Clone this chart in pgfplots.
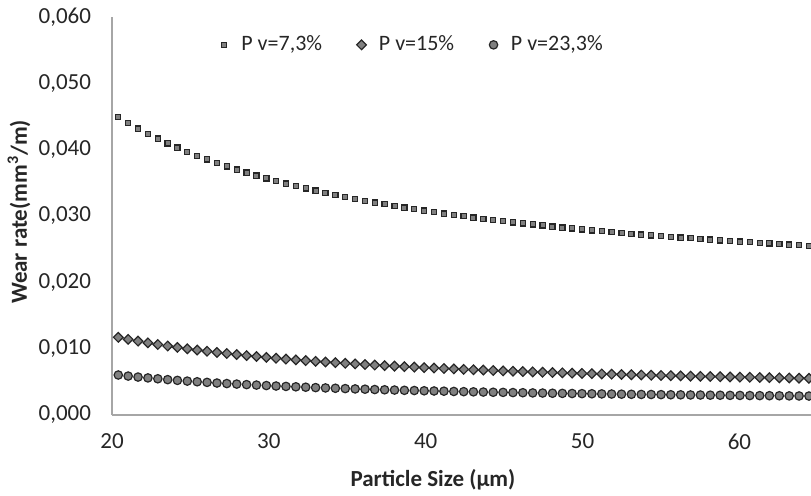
\documentclass[border=0pt]{standalone}
\usepackage{pgfplots}
\usepackage{pgfplotstable}
\pgfplotsset{compat=1.18}
\usepackage{fontspec}
\setmainfont{Carlito}
\definecolor{mk}{HTML}{808080}
\definecolor{mkline}{HTML}{262626}
\definecolor{axl}{HTML}{A6A6A6}
\pgfplotstableread{
x sq di ci
20.40 0.04490 0.01171 0.00603
21.03 0.04401 0.01141 0.00587
21.66 0.04318 0.01114 0.00572
22.29 0.04240 0.01088 0.00559
22.92 0.04166 0.01063 0.00546
23.55 0.04096 0.01040 0.00533
24.17 0.04030 0.01019 0.00522
24.80 0.03968 0.00998 0.00511
25.43 0.03909 0.00979 0.00501
26.06 0.03852 0.00961 0.00492
26.69 0.03799 0.00943 0.00482
27.32 0.03748 0.00927 0.00474
27.95 0.03700 0.00911 0.00466
28.58 0.03653 0.00896 0.00458
29.21 0.03609 0.00882 0.00451
29.84 0.03567 0.00869 0.00444
30.46 0.03527 0.00856 0.00437
31.09 0.03488 0.00843 0.00431
31.72 0.03451 0.00831 0.00425
32.35 0.03416 0.00820 0.00419
32.98 0.03382 0.00809 0.00413
33.61 0.03349 0.00799 0.00408
34.24 0.03317 0.00789 0.00403
34.87 0.03287 0.00779 0.00398
35.50 0.03258 0.00770 0.00393
36.13 0.03230 0.00761 0.00389
36.75 0.03203 0.00753 0.00384
37.38 0.03177 0.00744 0.00380
38.01 0.03151 0.00737 0.00376
38.64 0.03127 0.00729 0.00372
39.27 0.03103 0.00722 0.00369
39.90 0.03081 0.00714 0.00365
40.53 0.03059 0.00708 0.00362
41.16 0.03037 0.00701 0.00359
41.79 0.03017 0.00695 0.00355
42.42 0.02997 0.00688 0.00352
43.04 0.02977 0.00682 0.00349
43.67 0.02959 0.00677 0.00346
44.30 0.02940 0.00671 0.00343
44.93 0.02923 0.00665 0.00341
45.56 0.02905 0.00660 0.00338
46.19 0.02889 0.00655 0.00336
46.82 0.02872 0.00650 0.00333
47.45 0.02857 0.00645 0.00331
48.08 0.02841 0.00640 0.00328
48.71 0.02826 0.00636 0.00326
49.33 0.02812 0.00631 0.00324
49.96 0.02798 0.00627 0.00322
50.59 0.02784 0.00623 0.00320
51.22 0.02771 0.00619 0.00318
51.85 0.02757 0.00615 0.00316
52.48 0.02745 0.00611 0.00314
53.11 0.02732 0.00607 0.00312
53.74 0.02720 0.00604 0.00310
54.37 0.02708 0.00600 0.00309
55.00 0.02697 0.00596 0.00307
55.62 0.02685 0.00593 0.00305
56.25 0.02674 0.00590 0.00304
56.88 0.02664 0.00586 0.00302
57.51 0.02653 0.00583 0.00301
58.14 0.02643 0.00580 0.00299
58.77 0.02633 0.00577 0.00298
59.40 0.02623 0.00574 0.00296
60.03 0.02613 0.00571 0.00295
60.66 0.02604 0.00569 0.00293
61.29 0.02595 0.00566 0.00292
61.91 0.02586 0.00563 0.00291
62.54 0.02577 0.00560 0.00290
63.17 0.02568 0.00558 0.00288
63.80 0.02560 0.00555 0.00287
64.43 0.02552 0.00553 0.00286
}\wear
\begin{document}
\begin{tikzpicture}
\begin{axis}[
  at={(0,0)}, anchor=south west,
  scale only axis, width=349.5bp, height=199bp,
  xmin=20, xmax=64.56, ymin=0, ymax=0.06,
  axis x line*=bottom, axis y line*=left,
  axis line style={-, draw=axl, line width=0.7bp},
  major tick length=0pt,
  xtick={20,30,40,50,60},
  ytick={0,0.01,0.02,0.03,0.04,0.05,0.06},
  scaled y ticks=false,
  /pgf/number format/assume math mode=true,
  yticklabel style={/pgf/number format/.cd, fixed, fixed zerofill, precision=3, use comma, /tikz/.cd, xshift=-7bp},
  xticklabel style={yshift=-6bp},
  tick label style={font=\fontsize{11.5bp}{13bp}\selectfont, text=black!85},
  xlabel={Particle Size (µm)},
  ylabel={Wear rate(mm\textsuperscript{3}/m)},
  label style={font=\bfseries\fontsize{11.5bp}{13bp}\selectfont, text=black!85},
  xlabel style={at={(axis description cs:0.4592,-0.1633)}, anchor=center},
  ylabel style={at={(axis description cs:-0.133,0.51)}, anchor=center},
  legend style={at={(axis description cs:0.1434,0.93)}, anchor=west, draw=none, fill=none,
    font=\fontsize{11bp}{13bp}\selectfont, text=black!85,
    /tikz/every even column/.append style={column sep=15bp}},
  legend columns=3,
  legend image code/.code={\path (0bp,0bp) (9bp,0bp); \draw[#1] plot coordinates {(2.5bp,0bp)};},
]
\addplot[only marks, mark=square*, mark size=1.3bp, mark options={fill=mk, draw=mkline, line width=0.6bp}] table[x=x, y=sq] {\wear};
\addlegendentry{P v=7,3\%}
\addplot[only marks, mark=square*, mark size=1.7bp, mark options={rotate=45, fill=mk, draw=mkline, line width=0.6bp}] table[x=x, y=di] {\wear};
\addlegendentry{P v=15\%}
\addplot[only marks, mark=*, mark size=2.1bp, mark options={fill=mk, draw=mkline, line width=0.6bp}] table[x=x, y=ci] {\wear};
\addlegendentry{P v=23,3\%}
\end{axis}
\pgfresetboundingbox
\path[use as bounding box] (-56bp,-40.5bp) rectangle (349.5bp,207.5bp);
\end{tikzpicture}
\end{document}
